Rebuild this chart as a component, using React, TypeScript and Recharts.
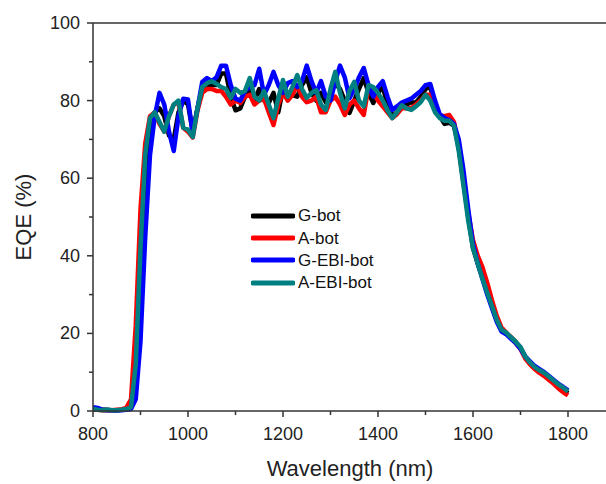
import { LineChart, Line, XAxis, YAxis, Legend, ReferenceLine } from 'recharts';

const wavelength = [
  800, 810, 820, 830, 840, 850, 860, 870, 880, 890,
  900, 910, 920, 930, 940, 950, 960, 970, 980, 990,
  1000, 1010, 1020, 1030, 1040, 1050, 1060, 1070, 1080, 1090,
  1100, 1110, 1120, 1130, 1140, 1150, 1160, 1170, 1180, 1190,
  1200, 1210, 1220, 1230, 1240, 1250, 1260, 1270, 1280, 1290,
  1300, 1310, 1320, 1330, 1340, 1350, 1360, 1370, 1380, 1390,
  1400, 1410, 1420, 1430, 1440, 1450, 1460, 1470, 1480, 1490,
  1500, 1510, 1520, 1530, 1540, 1550, 1560, 1570, 1580, 1590,
  1600, 1610, 1620, 1630, 1640, 1650, 1660, 1670, 1680, 1690,
  1700, 1710, 1720, 1730, 1740, 1750, 1760, 1770, 1780, 1790,
  1800,
];

// G-bot (black)
const gBot = [
  0.5, 0.4, 0.3, 0.3, 0.2, 0.2, 0.3, 0.4, 0.8, 8,
  35, 62, 74, 77, 78, 76, 71, 70, 77, 80,
  79, 72, 78, 83, 83.5, 84, 84, 87, 87, 81,
  77.5, 78, 81, 83, 80, 83, 80, 79.4, 82, 77,
  83, 82, 81.4, 81, 84, 86, 82, 80, 82, 79.6,
  82, 84.5, 83, 80, 76.8, 80, 83, 85.8, 82, 79.4,
  82, 83.5, 79, 76, 77, 78.5, 79, 79.5, 79.5, 81,
  83, 83.5, 79, 76, 74, 74.3, 73.5, 68, 59, 50,
  42, 38, 34.5, 30.5, 27, 23.5, 21, 20, 19, 17.8,
  16.3, 14, 12.5, 11.3, 10.5, 9.6, 8.6, 7.6, 6.6, 5.6,
  4.6,
];

// A-bot (red)
const aBot = [
  0.3, 0.3, 0.2, 0.2, 0.2, 0.3, 0.4, 0.8, 3, 22,
  52, 69, 76, 77, 74, 72, 76, 79, 79.5, 73,
  72, 70.5, 77.5, 82, 83, 83, 82.5, 82.5, 81, 79,
  80, 79.4, 81, 81.5, 79, 80, 80.5, 77, 73.7, 79,
  82, 80, 81.5, 84, 81, 79.6, 80, 81, 77, 77,
  80, 81, 79, 76.3, 79, 80, 78, 76.3, 83.5, 82,
  80, 78.5, 77, 75.5, 76.5, 78, 78, 78, 79, 80,
  81.5, 81.5, 78, 76, 76, 76.3, 74.5, 68, 59, 51,
  44, 40, 37, 33, 28.5, 24.5, 21.5, 20.2, 19, 17.5,
  16, 13.5, 12, 10.8, 9.8, 9, 8, 7, 5.8, 4.8,
  4,
];

// G-EBI-bot (blue)
const gEbiBot = [
  1, 0.8, 0.3, 0.2, 0.2, 0.1, 0.2, 0.3, 0.5, 3,
  18, 45, 66, 76, 82, 79, 72, 67, 76, 80.5,
  80.3, 71.5, 78, 84.8, 85.8, 85, 86, 89, 89, 84,
  80.5, 80, 82.5, 83.5, 84, 88.2, 81.5, 84, 87.4, 84,
  82, 84.5, 85, 83.5, 85, 89, 85, 82, 85, 81,
  80, 85, 89, 86, 80.6, 83, 86, 88.4, 84, 81,
  83.5, 85, 81, 77.6, 78.5, 79.5, 80, 80.5, 81.5, 82.5,
  84, 84.3, 80, 76.5, 75.5, 75, 74, 70, 62, 52,
  43, 38, 34, 30, 26.5, 23, 20.5, 19.8, 18.6, 17.5,
  16, 14, 12.8, 11.6, 10.8, 10, 9, 8, 7, 6.2,
  5.3,
];

// A-EBI-bot (teal)
const aEbiBot = [
  0.5, 0.3, 0.2, 0.3, 0.2, 0.2, 0.3, 0.5, 1, 12,
  42, 66, 75.5, 77, 74.5, 72, 76, 79, 80, 73,
  72.5, 70.6, 78, 83.5, 84.5, 85, 84.3, 83.5, 83, 80.7,
  83, 82, 82.5, 85.8, 81, 80, 82.5, 79, 75.5, 80.5,
  85.3, 81, 83.5, 86.6, 83, 80.7, 82, 82.7, 79, 77.6,
  83, 87.4, 82, 78, 82.5, 84.8, 80, 78.5, 84, 83.5,
  82, 80, 77.5, 75.5, 77, 78.8, 78, 77.6, 78.5, 79.6,
  81.5, 80, 77, 75.5, 74.8, 74.8, 73.5, 67, 58, 49,
  42, 38, 34, 30.5, 27, 23.5, 21, 20.2, 19, 17.8,
  16.5, 14, 12.5, 11.3, 10.5, 9.8, 8.8, 7.8, 6.8, 6,
  5,
];

const xTicks = [800, 900, 1000, 1100, 1200, 1300, 1400, 1500, 1600, 1700, 1800];
const yTicks = [0, 10, 20, 30, 40, 50, 60, 70, 80, 90, 100];

const seriesNames = ['G-bot', 'A-bot', 'G-EBI-bot', 'A-EBI-bot'];
const seriesColors = ['#000000', '#ff0000', '#0000ff', '#008080'];
const seriesValues = [gBot, aBot, gEbiBot, aEbiBot];

const data = wavelength.map((wl, i) => {
  const row: Record<string, number> = { wl };
  seriesNames.forEach((name, s) => {
    row[name] = seriesValues[s][i];
  });
  return row;
});

const FONT = '"Liberation Sans", Arial, sans-serif';
const AXIS = '#333333';

const XTick = (props: any) => {
  const { x, y, payload } = props;
  const major = payload.value % 200 === 0;
  return (
    <g>
      <line x1={x} x2={x} y1={y} y2={y + (major ? 6 : 4)} stroke={AXIS} strokeWidth={1.5} />
      {major && (
        <text x={x} y={y + 29} textAnchor="middle" fontSize={18} fontFamily={FONT} fill="#222">
          {payload.value}
        </text>
      )}
    </g>
  );
};

const YTick = (props: any) => {
  const { x, y, payload } = props;
  const major = payload.value % 20 === 0;
  return (
    <g>
      <line x1={x} x2={x - (major ? 6 : 4)} y1={y} y2={y} stroke={AXIS} strokeWidth={1.5} />
      {major && (
        <text x={x - 13} y={y + 6} textAnchor="end" fontSize={18} fontFamily={FONT} fill="#222">
          {payload.value}
        </text>
      )}
    </g>
  );
};

const LegendBox = () => (
  <div style={{ fontFamily: FONT, fontSize: 17, color: '#111' }}>
    {seriesNames.map((name, i) => (
      <div key={name} style={{ display: 'flex', alignItems: 'center', height: 22.4 }}>
        <svg width={44} height={8} style={{ display: 'block' }}>
          <line x1={2} x2={42} y1={4} y2={4} stroke={seriesColors[i]} strokeWidth={5} strokeLinecap="round" />
        </svg>
        <span style={{ marginLeft: 3, lineHeight: 1 }}>{name}</span>
      </div>
    ))}
  </div>
);

export default function App() {
  return (
    <div style={{ position: 'absolute', left: 0, top: 0, background: '#fff' }}>
      <LineChart width={606} height={484} data={data} margin={{ top: 23, right: 0, left: 0, bottom: 0 }}>
        <XAxis
          dataKey="wl"
          type="number"
          domain={[800, 1880]}
          allowDataOverflow
          ticks={xTicks}
          interval={0}
          tickSize={0}
          tickMargin={0}
          tick={<XTick />}
          axisLine={{ stroke: AXIS, strokeWidth: 1.5 }}
          height={73}
          label={{
            content: () => (
              <text x={350} y={476} textAnchor="middle" fontSize={22} fontFamily={FONT} fill="#222">
                Wavelength (nm)
              </text>
            ),
          }}
        />
        <YAxis
          type="number"
          domain={[0, 100]}
          ticks={yTicks}
          interval={0}
          tickSize={0}
          tickMargin={0}
          tick={<YTick />}
          axisLine={{ stroke: AXIS, strokeWidth: 1.5 }}
          width={93}
          label={{
            content: () => (
              <text
                x={23}
                y={217}
                transform="rotate(-90 23 217)"
                textAnchor="middle"
                dominantBaseline="central"
                fontSize={22}
                fontFamily={FONT}
                fill="#222"
              >
                EQE (%)
              </text>
            ),
          }}
        />
        <ReferenceLine y={100} stroke={AXIS} strokeWidth={1.5} ifOverflow="visible" />
        <Legend
          layout="vertical"
          align="center"
          verticalAlign="middle"
          content={<LegendBox />}
          wrapperStyle={{ left: 251, top: 204.5, width: 'auto' }}
        />
        {seriesNames.map((name, i) => (
          <Line
            key={name}
            type="linear"
            dataKey={name}
            stroke={seriesColors[i]}
            strokeWidth={4.5}
            strokeLinejoin="round"
            dot={false}
            isAnimationActive={false}
          />
        ))}
      </LineChart>
    </div>
  );
}
